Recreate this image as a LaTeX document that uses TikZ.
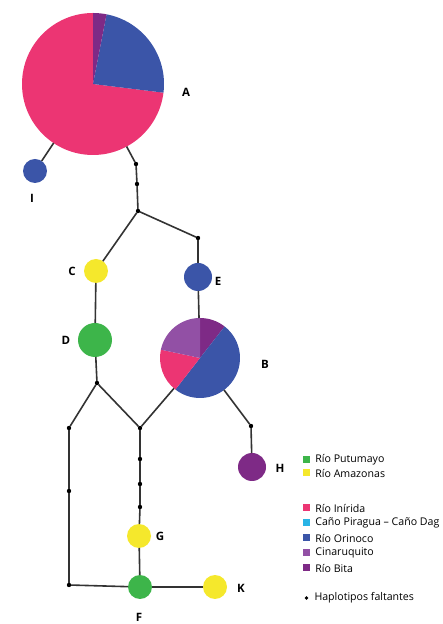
\documentclass[tikz,border=0pt]{standalone}
\usepackage{fontspec}
\setmainfont{Open Sans}
\usepackage{xcolor}
\usepackage{tikz}
\usetikzlibrary{positioning}
\definecolor{putumayo}{HTML}{3DB54A}
\definecolor{amazonas}{HTML}{F5E82C}
\definecolor{inirida}{HTML}{EC3573}
\definecolor{piragua}{HTML}{29B4E6}
\definecolor{orinoco}{HTML}{3B55A8}
\definecolor{cinaruquito}{HTML}{9250A5}
\definecolor{bita}{HTML}{7E2A86}

\begin{document}
\begin{tikzpicture}[
  x=1pt,y=1pt,
  hap/.style={circle,inner sep=0pt,outer sep=0pt},
  knot/.style={circle,fill=black,inner sep=0pt,outer sep=0pt,minimum size=4.4pt},
  lab/.style={font=\fontsize{11.5}{12}\selectfont\bfseries,inner sep=0pt},
  edge/.style={draw=black!80,line width=1.6pt},
  key/.style={rectangle,inner sep=0pt,minimum size=7pt},
  keytext/.style={inner sep=0pt,font=\fontsize{10.6}{12}\selectfont}]
\useasboundingbox (0,0) rectangle (443,624);
% haplotypes
\node[hap,minimum size=142pt] (A) at (93,540) {};
\node[hap,minimum size=80pt] (B) at (200,266) {};
\node[hap,fill=orinoco,minimum size=24pt] (I) at (35,453) {};
\node[hap,fill=amazonas,minimum size=24pt] (C) at (96,353) {};
\node[hap,fill=orinoco,minimum size=28pt] (E) at (198,347) {};
\node[hap,fill=putumayo,minimum size=34pt] (D) at (95,284) {};
\node[hap,fill=bita,minimum size=28pt] (H) at (252,157) {};
\node[hap,fill=amazonas,minimum size=24pt] (G) at (139,88) {};
\node[hap,fill=putumayo,minimum size=24pt] (F) at (140,37) {};
\node[hap,fill=amazonas,minimum size=24pt] (K) at (215,37) {};
% pies
\foreach \a/\b/\c in {90/353/inirida,-7/79/orinoco,79/90/bita}
  \fill[\c] (A.center) -- ++(\a:71) arc[start angle=\a,end angle=\b,radius=71] -- cycle;
\foreach \a/\b/\c in {52/90/bita,-128/52/orinoco,168/232/inirida,90/168/cinaruquito}
  \fill[\c] (B.center) -- ++(\a:40) arc[start angle=\a,end angle=\b,radius=40] -- cycle;
% missing haplotypes
\node[knot] (a1) at (136,460) {};
\node[knot] (a2) at (137,440) {};
\node[knot] (j1) at (138,413) {};
\node[knot] (e1) at (198,386) {};
\node[knot] (h1) at (251,198) {};
\node[knot] (d1) at (97,241) {};
\node[knot] (l1) at (69,196) {};
\node[knot] (l2) at (69,133) {};
\node[knot] (l3) at (69,39) {};
\node[knot] (m1) at (140,196) {};
\node[knot] (m2) at (140,165) {};
\node[knot] (m3) at (140,140) {};
\node[knot] (m4) at (140,117) {};
% links
\draw[edge] (A)--(I); \draw[edge] (A)--(a1); \draw[edge] (a1)--(a2); \draw[edge] (a2)--(j1);
\draw[edge] (j1)--(C); \draw[edge] (j1)--(e1); \draw[edge] (e1)--(E); \draw[edge] (E)--(B);
\draw[edge] (C)--(D); \draw[edge] (D)--(d1); \draw[edge] (d1)--(l1); \draw[edge] (d1)--(m1);
\draw[edge] (B)--(m1); \draw[edge] (B)--(h1); \draw[edge] (h1)--(H);
\draw[edge] (l1)--(l2); \draw[edge] (l2)--(l3); \draw[edge] (l3)--(F);
\draw[edge] (m1)--(m2); \draw[edge] (m2)--(m3); \draw[edge] (m3)--(m4); \draw[edge] (m4)--(G);
\draw[edge] (G)--(F); \draw[edge] (F)--(K);
% labels
\node[lab] (tA) at (186,532) {A};
\node[lab] (tB) at (265,260) {B};
\node[lab] (tC) at (72,353) {C};
\node[lab] (tD) at (66,284) {D};
\node[lab] (tE) at (218,343) {E};
\node[lab] (tF) at (139,7) {F};
\node[lab] (tG) at (160,88) {G};
\node[lab] (tH) at (280,156) {H};
\node[lab] (tI) at (32,426) {I};
\node[lab] (tK) at (241,36) {K};
% legend
\node[key,fill=putumayo] (k1) at (306.5,164) {};
\node[key,fill=amazonas] (k2) at (306.5,151) {};
\node[key,fill=inirida] (k3) at (306.5,116) {};
\node[key,fill=piragua] (k4) at (306.5,101) {};
\node[key,fill=orinoco] (k5) at (306.5,86) {};
\node[key,fill=cinaruquito] (k6) at (306.5,71) {};
\node[key,fill=bita] (k7) at (306.5,56) {};
\node[knot,minimum size=3.6pt] (k8) at (306.5,26) {};
\node[keytext,right=5pt of k1] {Río Putumayo};
\node[keytext,right=5pt of k2] {Río Amazonas};
\node[keytext,right=5pt of k3] {Río Inírida};
\node[keytext,right=5pt of k4] {Caño Piragua – Caño Dag};
\node[keytext,right=5pt of k5] {Río Orinoco};
\node[keytext,right=5pt of k6] {Cinaruquito};
\node[keytext,right=5pt of k7] {Río Bita};
\node[keytext,right=6pt of k8] {Haplotipos faltantes};
\end{tikzpicture}
\end{document}
